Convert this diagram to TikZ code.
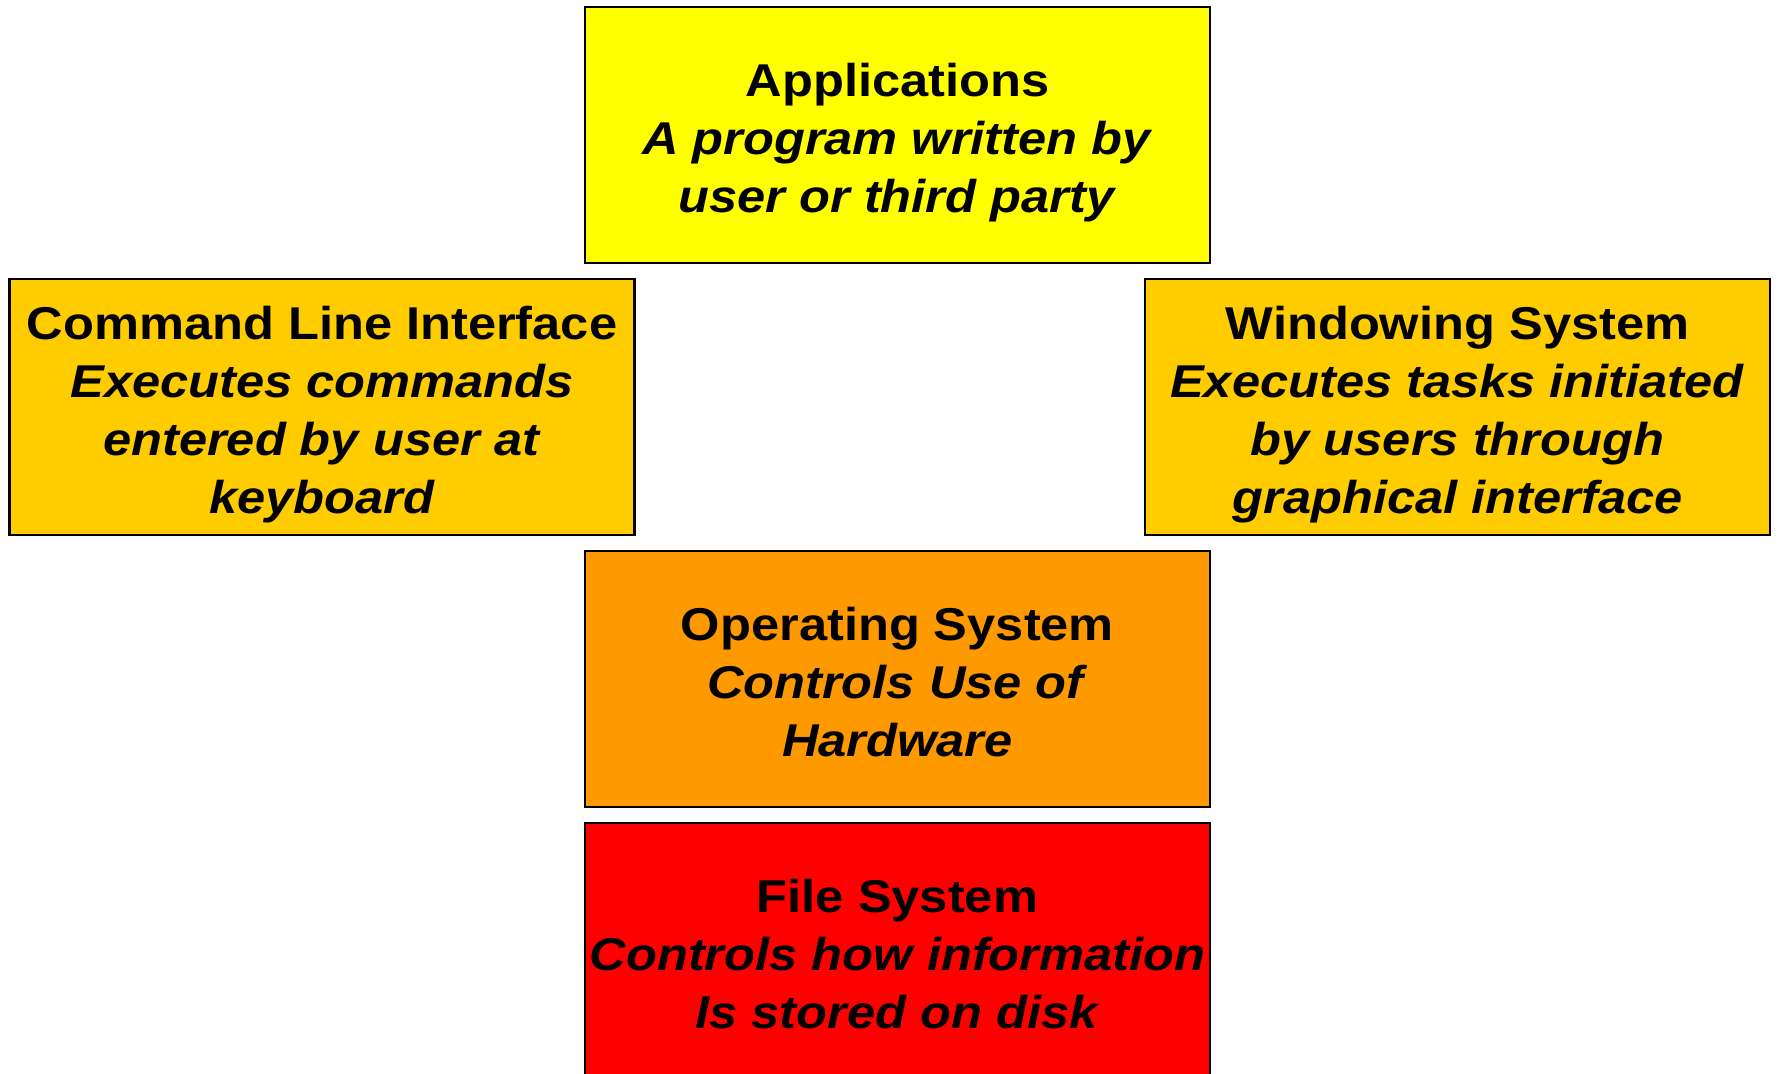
\documentclass[tikz,border=0pt]{standalone}
\usepackage{fontspec}
\setmainfont[FakeStretch=1.1]{Liberation Sans}
\usepackage{tikz}
\usetikzlibrary{positioning}
\definecolor{appyellow}{HTML}{FFFF00}
\definecolor{ifacegold}{HTML}{FFCC00}
\definecolor{osorange}{HTML}{FF9900}
\definecolor{fsred}{HTML}{FF0000}
\tikzset{layer/.style={draw=black, line width=1.2pt, rectangle,
    minimum width=312.5pt, minimum height=128pt, inner sep=0pt},
  blurb/.style={align=center, inner sep=0pt,
    font=\fontsize{23}{29}\selectfont\bfseries}}
\newcommand{\desc}[1]{\textit{#1}}

\begin{document}
\begin{tikzpicture}[x=0.5pt, y=-0.5pt]
  \useasboundingbox (0,0) rectangle (1779,1074);
  % boxes
  \node[layer, fill=appyellow] (apps) at (897.5,135) {};
  \node[layer, fill=ifacegold] (cli) at (322,407) {};
  \node[layer, fill=ifacegold] (win) at (1457.5,407) {};
  \node[layer, fill=osorange] (os) at (897.5,679) {};
  \node[layer, fill=fsred] (fs) at (897.5,951) {};
  % texts
  \node[blurb] (appstext) at ([yshift=-4pt]apps.center)
    {Applications\\ \desc{A program written by}\\ \desc{user or third party}};
  \node[blurb] (clitext) at ([yshift=-4pt]cli.center)
    {Command Line Interface\\ \desc{Executes commands}\\ \desc{entered by user at}\\ \desc{keyboard}};
  \node[blurb] (wintext) at ([yshift=-4pt]win.center)
    {Windowing System\\ \desc{Executes tasks initiated}\\ \desc{by users through}\\ \desc{graphical interface}};
  \node[blurb] (ostext) at ([yshift=-1.5pt]os.center)
    {Operating System\\ \desc{Controls Use of}\\ \desc{Hardware}};
  \node[blurb] (fstext) at ([yshift=-1.5pt]fs.center)
    {File System\\ \desc{Controls how information}\\ \desc{Is stored on disk}};
\end{tikzpicture}
\end{document}
